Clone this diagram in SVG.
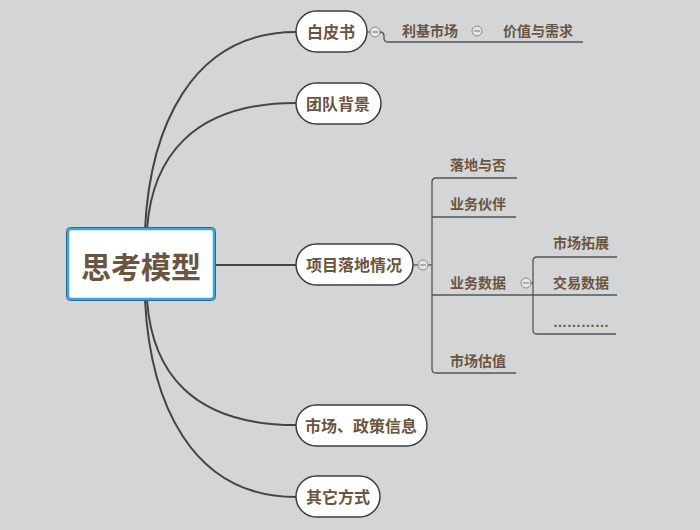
<svg xmlns="http://www.w3.org/2000/svg" width="700" height="530" viewBox="0 0 700 530">
<style>
.bg{fill:#d4d5d7}
.pill{fill:#ffffff;stroke:#3c3c3c;stroke-width:1.5}
.conn{fill:none;stroke:#444444;stroke-width:2}
.sub{fill:none;stroke:#555555;stroke-width:1.3}
.t{font-family:"Liberation Sans","Noto Sans CJK SC",sans-serif;font-weight:bold;fill:#6b5540}
.main{font-size:30px;text-anchor:middle}
.br{font-size:16px;text-anchor:middle}
.st{font-size:14px}
.tog{fill:#e4e5e7;stroke:#8a8a8a;stroke-width:1}
.togm{stroke:#777777;stroke-width:1}
</style>
<rect class="bg" x="0" y="0" width="700" height="530"/>
<g id="connectors">
<path class="conn" d="M145,229 C150,130 190,32 296,32"/>
<path class="conn" d="M147,229 C152,160 190,103 296,103"/>
<path class="conn" d="M215,265 L296,265"/>
<path class="conn" d="M147,300 C152,370 190,425 296,425"/>
<path class="conn" d="M145,300 C150,400 190,497 296,497"/>
<path class="sub" d="M367,32 L370,32"/>
<path class="sub" d="M380,32 Q384,32 384,36 L384,38 Q384,42 388,42 L583,42"/>
<path class="sub" d="M413,265 L418,265"/>
<path class="sub" d="M428,265 L432,265"/>
<path class="sub" d="M517,178 L436,178 Q432,178 432,182 L432,369 Q432,373 436,373 L516,373"/>
<path class="sub" d="M432,217 L516,217"/>
<path class="sub" d="M432,295 L617,295"/>
<path class="sub" d="M531,283 L533,283"/>
<path class="sub" d="M617,257 L537,257 Q533,257 533,261 L533,330 Q533,334 537,334 L616,334"/>
</g>
<g id="toggles">
<circle class="tog" cx="375" cy="32" r="5"/><path class="togm" d="M372,32 L378,32"/>
<circle class="tog" cx="477" cy="31" r="5"/><path class="togm" d="M474,31 L480,31"/>
<circle class="tog" cx="423" cy="265" r="5"/><path class="togm" d="M420,265 L426,265"/>
<circle class="tog" cx="526" cy="283" r="5"/><path class="togm" d="M523,283 L529,283"/>
</g>
<g id="center">
<rect x="66.5" y="227.5" width="149" height="73" rx="4" fill="none" stroke="#2a5570" stroke-width="1"/>
<rect x="68" y="229" width="146" height="70" rx="3" fill="#ffffff" stroke="#3aa6dc" stroke-width="2.5"/>
<text class="t main" x="141" y="278">思考模型</text>
</g>
<g id="baipishu">
<rect class="pill" x="296" y="11" width="71" height="41" rx="20.5"/>
<text class="t br" x="331" y="38">白皮书</text>
</g>
<g id="tuandui">
<rect class="pill" x="296" y="83" width="85" height="41" rx="20.5"/>
<text class="t br" x="338" y="110">团队背景</text>
</g>
<g id="xiangmu">
<rect class="pill" x="296" y="244" width="117" height="41" rx="20.5"/>
<text class="t br" x="354" y="271">项目落地情况</text>
</g>
<g id="shichang">
<rect class="pill" x="296" y="405" width="131" height="41" rx="20.5"/>
<text class="t br" x="361" y="432">市场、政策信息</text>
</g>
<g id="qita">
<rect class="pill" x="296" y="476" width="84" height="41" rx="20.5"/>
<text class="t br" x="338" y="503">其它方式</text>
</g>
<g id="lijishichang"><text class="t st" x="402" y="36">利基市场</text></g>
<g id="jiazhi"><text class="t st" x="503" y="36">价值与需求</text></g>
<g id="luodi"><text class="t st" x="450" y="170">落地与否</text></g>
<g id="huoban"><text class="t st" x="450" y="209">业务伙伴</text></g>
<g id="shuju"><text class="t st" x="450" y="288">业务数据</text></g>
<g id="guzhi"><text class="t st" x="450" y="366">市场估值</text></g>
<g id="tuozhan"><text class="t st" x="553" y="248">市场拓展</text></g>
<g id="jiaoyi"><text class="t st" x="553" y="288">交易数据</text></g>
<g id="dots"><text class="t st" x="553" y="327">…………</text></g>
</svg>
